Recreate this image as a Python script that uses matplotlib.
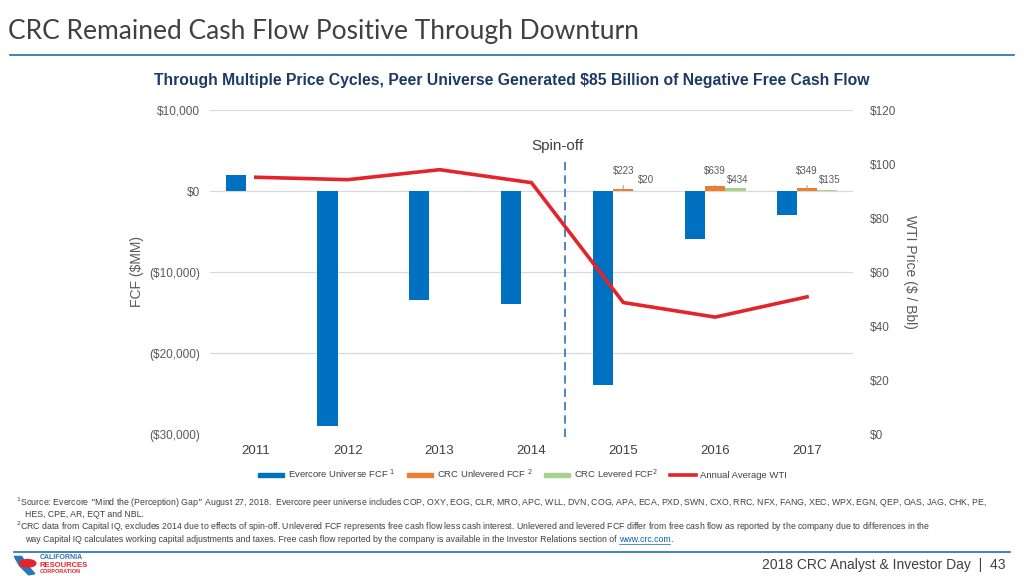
import matplotlib.pyplot as plt
import numpy as np
from matplotlib.lines import Line2D
from matplotlib.patches import Patch, Polygon, Ellipse

years = ["2011", "2012", "2013", "2014", "2015", "2016", "2017"]
evercore_fcf = [2000, -29000, -13500, -14000, -24000, -5900, -3000]
crc_unlevered = [np.nan, np.nan, np.nan, np.nan, 223, 639, 349]
crc_levered = [np.nan, np.nan, np.nan, np.nan, 20, 434, 135]
wti_price = [95.1, 94.2, 97.9, 93.1, 48.7, 43.3, 50.8]

BLUE = "#0070C0"
ORANGE = "#ED7D31"
GREEN = "#A9D18E"
RED = "#E3242B"
GREY = "#595959"
NAVY = "#1B3A66"

plt.rcParams["font.family"] = ["Liberation Sans", "DejaVu Sans"]

fig = plt.figure(figsize=(10.24, 5.76), dpi=100)
ax = fig.add_axes([0.205, 0.2465, 0.628, 0.5625])

x = np.arange(len(years))
w = 0.22
unlev = np.array(crc_unlevered, dtype=float)
lev = np.array(crc_levered, dtype=float)
has_crc = ~np.isnan(unlev)

ax.bar(x - w, evercore_fcf, w, color=BLUE, zorder=3)
ax.bar(x[has_crc], unlev[has_crc], w, color=ORANGE, zorder=3)
ax.bar(x[has_crc] + w, lev[has_crc], w, color=GREEN, zorder=3)

ax.set_xlim(-0.5, len(years) - 0.5)
ax.set_ylim(-30000, 10000)
ax.set_yticks(np.arange(-30000, 10001, 10000))
ax.set_yticklabels(
    [f"(${-v:,})" if v < 0 else f"${v:,}" for v in range(-30000, 10001, 10000)]
)
ax.set_xticks(x)
ax.set_xticklabels(years)
ax.grid(axis="y", color="#D9D9D9", lw=0.9, zorder=0)
ax.tick_params(axis="y", length=0, pad=7, labelsize=8.5, labelcolor=GREY)
ax.tick_params(axis="x", length=0, pad=8, labelsize=9.5, labelcolor="#404040")
for s in ax.spines.values():
    s.set_visible(False)

# data labels for the CRC bars
for xi, u, l in zip(x[has_crc], unlev[has_crc], lev[has_crc]):
    ax.annotate(f"${u:,.0f}", xy=(xi, u), xytext=(xi, 2500),
                ha="center", va="center", fontsize=7, color=GREY,
                arrowprops=dict(arrowstyle="-", color="#A6A6A6", lw=0.8,
                                shrinkA=5, shrinkB=0))
    ax.text(xi + w * 1.1, 1400, f"${l:,.0f}", ha="center", va="center",
            fontsize=7, color=GREY)

# spin-off marker
ax.axvline(3.36, ymin=-0.01, ymax=0.846, color="#2E75B6", lw=1.2,
           ls=(0, (5, 3)), clip_on=False, zorder=4)
ax.text(3.28, 5500, "Spin-off", ha="center", va="center", fontsize=11,
        color="#404040")

ax2 = ax.twinx()
ax2.plot(x, wti_price, color=RED, lw=2.6, zorder=5)
ax2.set_ylim(0, 120)
ax2.set_yticks(np.arange(0, 121, 20))
ax2.set_yticklabels([f"${v}" for v in range(0, 121, 20)])
ax2.tick_params(axis="y", length=0, pad=12, labelsize=8.5, labelcolor=GREY)
for s in ax2.spines.values():
    s.set_visible(False)

fig.text(0.134, 0.528, "FCF ($MM)", rotation=90, ha="center", va="center",
         fontsize=10, color=GREY)
fig.text(0.889, 0.528, "WTI Price ($ / Bbl)", rotation=270, ha="center",
         va="center", fontsize=10, color=GREY)

handles = [
    Patch(color=BLUE), Patch(color=ORANGE), Patch(color=GREEN),
    Line2D([], [], color=RED, lw=2.6),
]
labels = [
    "Evercore Universe FCF $^{1}$", "CRC Unlevered FCF $^{2}$",
    "CRC Levered FCF$^{2}$", "Annual Average WTI",
]
fig.legend(handles, labels, loc="center", bbox_to_anchor=(0.51, 0.177),
           ncol=4, frameon=False, fontsize=6.8, handlelength=2.8,
           handleheight=0.35, handletextpad=0.4, columnspacing=1.2,
           labelcolor="#404040")

# headings
fig.text(0.008, 0.945, "CRC Remained Cash Flow Positive Through Downturn",
         fontsize=19, color="#404040", va="center",
         family=["Lato", "DejaVu Sans"])
fig.add_artist(Line2D([0.01, 0.99], [0.904, 0.904], color="#1F6FA8", lw=1.2))
fig.text(0.5, 0.861,
         "Through Multiple Price Cycles, Peer Universe Generated $85 Billion of "
         "Negative Free Cash Flow",
         ha="center", va="center", fontsize=11.3, fontweight="bold", color=NAVY,
         family=["Liberation Sans Narrow", "Liberation Sans"])

# footnotes
note_kw = dict(fontsize=6.3, color="#404040", va="center")
fig.text(0.016, 0.127, "$^{1}$Source: Evercore \u201cMind the (Perception) Gap\u201d "
         "August 27, 2018.  Evercore peer universe includes COP, OXY, EOG, CLR, "
         "MRO, APC, WLL, DVN, COG, APA, ECA, PXD, SWN, CXO, RRC, NFX, FANG, XEC, "
         "WPX, EGN, QEP, OAS, JAG, CHK, PE,", **note_kw)
fig.text(0.024, 0.106, "HES, CPE, AR, EQT and NBL.", **note_kw)
fig.text(0.016, 0.085, "$^{2}$CRC data from Capital IQ, excludes 2014 due to "
         "effects of spin-off. Unlevered FCF represents free cash flow less cash "
         "interest. Unlevered and levered FCF differ from free cash flow as "
         "reported by the company due to differences in the", **note_kw)
t = fig.text(0.024, 0.064, "way Capital IQ calculates working capital "
             "adjustments and taxes. Free cash flow reported by the company is "
             "available in the Investor Relations section of ", **note_kw)
fig.canvas.draw()
inv = fig.transFigure.inverted()
bb = t.get_window_extent().transformed(inv)
link = fig.text(bb.x1, 0.064, "www.crc.com", color="#0563C1", fontsize=6.3,
                va="center")
fig.canvas.draw()
lb = link.get_window_extent().transformed(inv)
fig.add_artist(Line2D([lb.x0, lb.x1], [0.056, 0.056], color="#0563C1", lw=0.5))
fig.text(lb.x1, 0.064, ".", **note_kw)

fig.add_artist(Line2D([0.014, 0.986], [0.042, 0.042], color="#1F6FA8", lw=1.2))

# logo: simple state outline and bear shape plus company name
fig.add_artist(Polygon([[0.014, 0.034], [0.021, 0.034], [0.028, 0.016],
                        [0.034, 0.004], [0.028, 0.002], [0.019, 0.018]],
                       closed=True, color="#2E75B6", transform=fig.transFigure))
fig.add_artist(Ellipse((0.027, 0.022), 0.016, 0.013, color="#E3242B",
                       transform=fig.transFigure))
fig.text(0.039, 0.032, "CALIFORNIA", fontsize=5, color="#2E75B6",
         fontweight="bold", va="center")
fig.text(0.039, 0.019, "RESOURCES", fontsize=5.5, color="#E3242B",
         fontweight="bold", va="center")
fig.text(0.039, 0.007, "CORPORATION", fontsize=4, color="#E3242B",
         fontweight="bold", va="center")

fig.text(0.982, 0.019, "2018 CRC Analyst & Investor Day  |  43", ha="right",
         va="center", fontsize=10, color="#404040")

fig.savefig("out.png", dpi=100)
